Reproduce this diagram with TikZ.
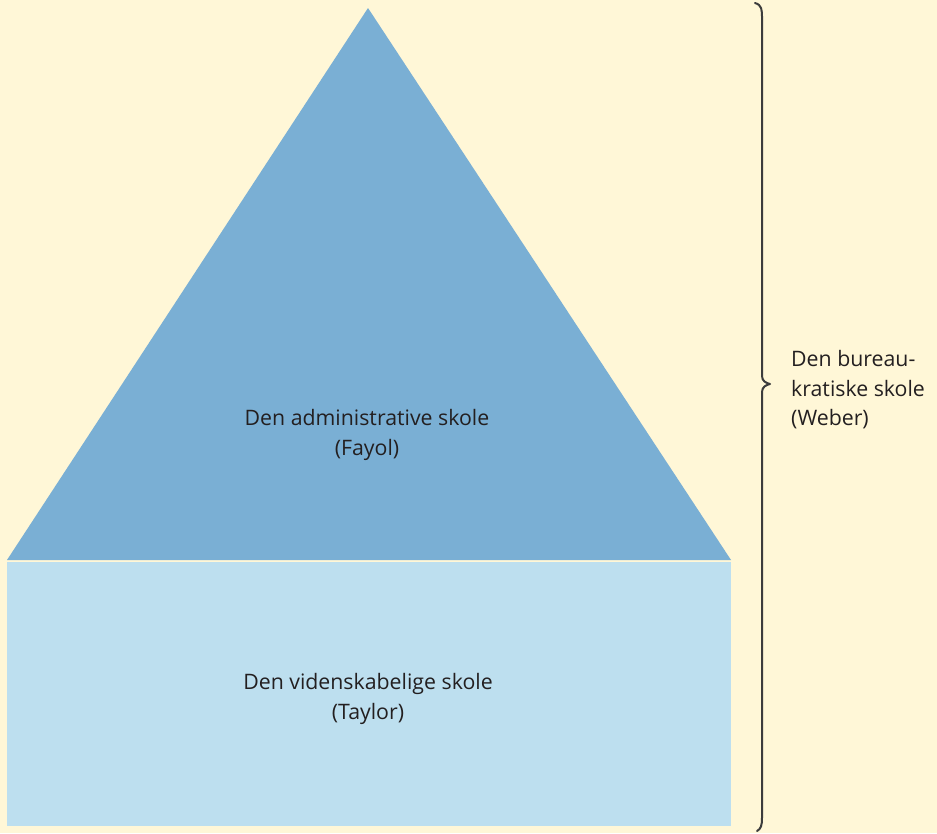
\documentclass[tikz,border=0pt]{standalone}
\usepackage{fontspec}
\setmainfont{Open Sans}
\definecolor{paper}{RGB}{255,247,215}
\definecolor{upper}{RGB}{122,175,212}
\definecolor{lower}{RGB}{189,223,239}
\definecolor{ink}{RGB}{35,31,32}
\definecolor{bracecol}{RGB}{60,60,60}
\begin{document}
\begin{tikzpicture}[x=1pt,y=-1pt,
  label/.style={inner sep=0pt, text=ink, align=center,
    font=\fontsize{21.3}{29.5}\selectfont},
  sidelabel/.style={label, align=left, anchor=west},
  bracestyle/.style={draw=bracecol, line width=2pt, line cap=round, line join=round}]
  % page
  \fill[paper] (0,0) rectangle (937,833);
  \useasboundingbox (0,0) rectangle (937,833);
  % corners of the two blocks
  \coordinate (apex) at (368,8);
  \coordinate (bl) at (7,560);
  \coordinate (br) at (731,560);
  \coordinate (rtl) at (7,562);
  \coordinate (rbr) at (731,826);
  % upper block: triangle
  \fill[upper] (apex) -- (br) -- (bl) -- cycle;
  % lower block: rectangle
  \fill[lower] (rtl) rectangle (rbr);
  % labels
  \node[label] (admin) at (367,435) {Den administrative skole\\(Fayol)};
  \node[label] (sci) at (368,699) {Den videnskabelige skole\\(Taylor)};
  % brace covering both blocks
  \coordinate (btop) at (755,3);
  \coordinate (btip) at (770,384);
  \coordinate (bbot) at (757,831);
  \draw[bracestyle] (btop) .. controls (762,5) and (762,10) .. (762,18)
    -- (762,376) .. controls (762,381) and (766,383) .. (btip)
    .. controls (766,385) and (762,387) .. (762,392)
    -- (762,818) .. controls (762,825) and (761,829) .. (bbot);
  \node[sidelabel] (weber) at (791,390) {Den bureau-\\kratiske skole\\(Weber)};
\end{tikzpicture}
\end{document}
